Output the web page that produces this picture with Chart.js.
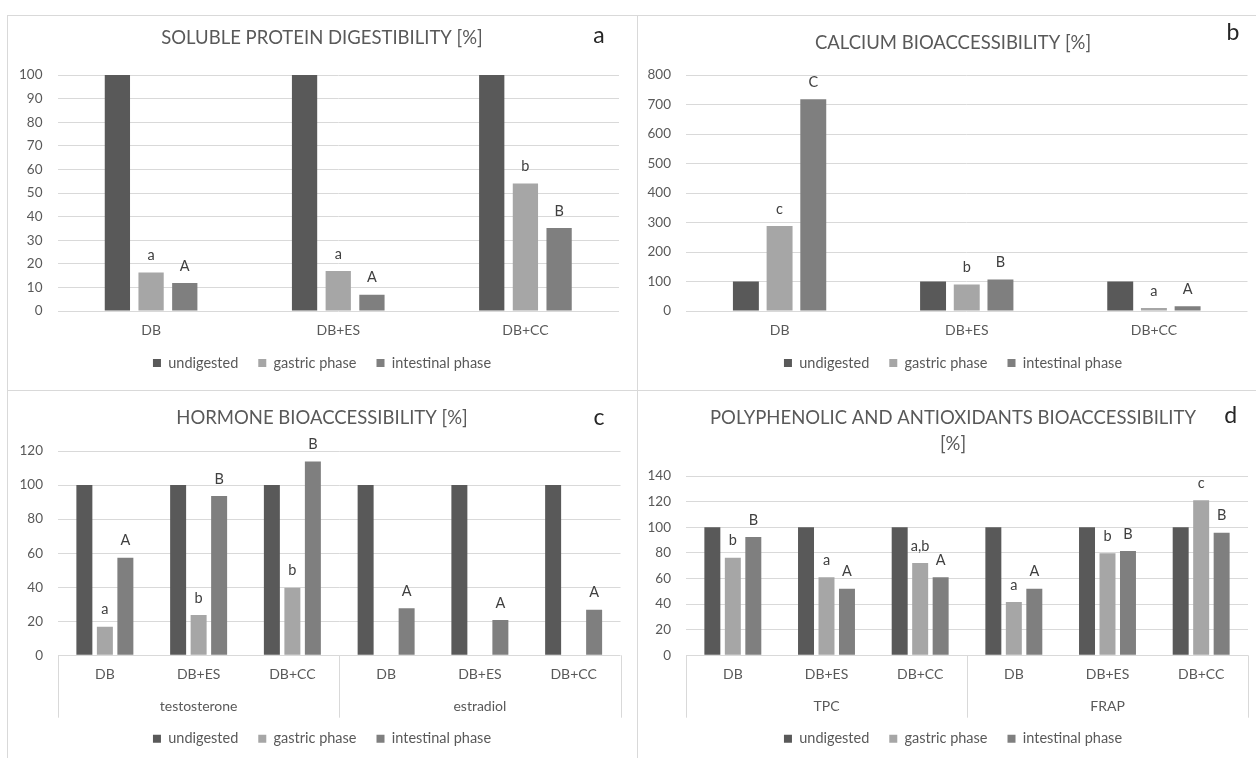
<!DOCTYPE html>
<html>
<head>
<meta charset="utf-8">
<title>Digestibility and bioaccessibility</title>
<script src="https://cdn.jsdelivr.net/npm/chart.js@4.4.1/dist/chart.umd.min.js"></script>
<style>
  html, body { margin: 0; padding: 0; background: #ffffff; width: 1256px; height: 758px; overflow: hidden; }
  .rule { position: absolute; background: #d9d9d9; }
  canvas { position: absolute; }
</style>
</head>
<body>
<div class="rule" style="left:7px;top:15px;width:1249px;height:1px"></div>
<div class="rule" style="left:7px;top:15px;width:1px;height:743px"></div>
<div class="rule" style="left:637px;top:15px;width:1px;height:743px"></div>
<div class="rule" style="left:7px;top:390px;width:1249px;height:1px"></div>

<canvas id="panelA" width="628" height="373" style="left:8px;top:16px"></canvas>
<canvas id="panelB" width="630" height="373" style="left:638px;top:16px"></canvas>
<canvas id="panelC" width="628" height="367" style="left:8px;top:391px"></canvas>
<canvas id="panelD" width="630" height="367" style="left:638px;top:391px"></canvas>

<script>
// ---- series shared by all four panels ----
const phaseNames = ['undigested', 'gastric phase', 'intestinal phase'];
const phaseColors = ['#595959', '#a6a6a6', '#7f7f7f'];

// ---- a: soluble protein digestibility [%] ----
const proteinCategories = ['DB', 'DB+ES', 'DB+CC'];
const proteinUndigested = [100, 100, 100];
const proteinGastric = [16.3, 16.9, 54];
const proteinIntestinal = [11.9, 6.9, 35.2];
const proteinGastricSig = ['a', 'a', 'b'];
const proteinIntestinalSig = ['A', 'A', 'B'];
const proteinAxis = [0, 100, 10];   // min, max, step

// ---- b: calcium bioaccessibility [%] ----
const calciumCategories = ['DB', 'DB+ES', 'DB+CC'];
const calciumUndigested = [100, 100, 100];
const calciumGastric = [288, 90, 10];
const calciumIntestinal = [718, 107, 16];
const calciumGastricSig = ['c', 'b', 'a'];
const calciumIntestinalSig = ['C', 'B', 'A'];
const calciumAxis = [0, 800, 100];

// ---- c: hormone bioaccessibility [%] ----
const hormoneCategories = ['DB', 'DB+ES', 'DB+CC', 'DB', 'DB+ES', 'DB+CC'];
const hormoneGroups = ['testosterone', 'estradiol'];
const hormoneUndigested = [100, 100, 100, 100, 100, 100];
const hormoneGastric = [16.8, 23.7, 39.7, null, null, null];
const hormoneIntestinal = [57.3, 93.5, 113.9, 27.6, 20.7, 26.8];
const hormoneGastricSig = ['a', 'b', 'b', '', '', ''];
const hormoneIntestinalSig = ['A', 'B', 'B', 'A', 'A', 'A'];
const hormoneAxis = [0, 120, 20];

// ---- d: polyphenolic and antioxidants bioaccessibility [%] ----
const polyCategories = ['DB', 'DB+ES', 'DB+CC', 'DB', 'DB+ES', 'DB+CC'];
const polyGroups = ['TPC', 'FRAP'];
const polyUndigested = [100, 100, 100, 100, 100, 100];
const polyGastric = [76.2, 60.9, 72, 41.6, 79.6, 121];
const polyIntestinal = [92.3, 52, 60.9, 52, 81.4, 95.7];
const polyGastricSig = ['b', 'a', 'a,b', 'a', 'b', 'c'];
const polyIntestinalSig = ['B', 'A', 'A', 'A', 'B', 'B'];
const polyAxis = [0, 140, 20];

Chart.defaults.font.family = "Lato, 'Open Sans', 'DejaVu Sans', sans-serif";
Chart.defaults.color = '#595959';

// Significance letters written above the gastric / intestinal bars
const sigLetters = {
  id: 'sigLetters',
  afterDatasetsDraw(chart) {
    const ctx = chart.ctx;
    ctx.save();
    ctx.font = "14.5px Lato, 'Open Sans', sans-serif";
    ctx.fillStyle = '#404040';
    ctx.textAlign = 'center';
    ctx.textBaseline = 'middle';
    chart.data.datasets.forEach((ds, i) => {
      if (!ds.sig) return;
      chart.getDatasetMeta(i).data.forEach((bar, j) => {
        const t = ds.sig[j];
        if (t && ds.data[j] != null) ctx.fillText(t, bar.x, bar.y - 17);
      });
    });
    ctx.restore();
  }
};

// Second category row (group names with separators) under the x axis
const groupAxis = {
  id: 'groupAxis',
  afterDraw(chart, args, opts) {
    if (!opts.groups) return;
    const ctx = chart.ctx, x = chart.scales.x, area = chart.chartArea;
    const per = chart.data.labels.length / opts.groups.length;
    ctx.save();
    ctx.strokeStyle = '#d9d9d9';
    ctx.lineWidth = 1;
    for (let g = 0; g <= opts.groups.length; g++) {
      let px;
      if (g === 0) px = area.left;
      else if (g === opts.groups.length) px = area.right;
      else px = (x.getPixelForValue(g * per - 1) + x.getPixelForValue(g * per)) / 2;
      px = Math.round(px) + 0.5;
      ctx.beginPath();
      ctx.moveTo(px, area.bottom);
      ctx.lineTo(px, area.bottom + opts.depth);
      ctx.stroke();
    }
    ctx.font = "14px Lato, 'Open Sans', sans-serif";
    ctx.fillStyle = '#595959';
    ctx.textAlign = 'center';
    ctx.textBaseline = 'middle';
    opts.groups.forEach((name, g) => {
      ctx.fillText(name, x.getPixelForValue(g * per + (per - 1) / 2), area.bottom + opts.labelOffset);
    });
    ctx.restore();
  }
};

// Panel letter in the upper right corner
const cornerMark = {
  id: 'cornerMark',
  afterDraw(chart, args, opts) {
    if (!opts.text) return;
    const ctx = chart.ctx;
    ctx.save();
    ctx.font = "23px Lato, 'Open Sans', sans-serif";
    ctx.fillStyle = '#262626';
    ctx.textAlign = 'center';
    ctx.textBaseline = 'middle';
    ctx.fillText(opts.text, opts.x, opts.y);
    ctx.restore();
  }
};

function buildPanel(id, p) {
  const datasets = [p.undigested, p.gastric, p.intestinal].map((values, i) => ({
    label: phaseNames[i],
    data: values,
    backgroundColor: phaseColors[i],
    borderWidth: 0,
    categoryPercentage: p.catPct,
    barPercentage: p.barPct,
    sig: i === 1 ? p.gastricSig : i === 2 ? p.intestinalSig : null
  }));
  return new Chart(document.getElementById(id), {
    type: 'bar',
    data: { labels: p.categories, datasets },
    options: {
      responsive: false,
      animation: false,
      devicePixelRatio: 1,
      layout: { padding: { left: 0, right: 0, top: 0, bottom: p.bottomPad } },
      plugins: {
        title: {
          display: true,
          text: p.title,
          color: '#595959',
          font: { size: 18.5, weight: 'normal', lineHeight: p.titleLine || 1.2 },
          padding: { top: p.titleTop, bottom: p.titleBottom }
        },
        legend: {
          position: 'bottom',
          labels: { boxWidth: 8, boxHeight: 8, padding: 20, color: '#595959', font: { size: 14.5 } }
        },
        tooltip: { enabled: false },
        groupAxis: { groups: p.groups || null, depth: p.groupDepth, labelOffset: p.groupOffset },
        cornerMark: { text: p.mark, x: p.markX, y: p.markY }
      },
      scales: {
        x: {
          grid: { display: false, drawTicks: false },
          border: { display: false },
          ticks: { padding: 11, color: '#595959', font: { size: 14 }, autoSkip: false, maxRotation: 0 },
          afterFit(s) { s.height = p.xHeight; }
        },
        y: {
          min: p.axis[0],
          max: p.axis[1],
          ticks: { stepSize: p.axis[2], padding: 15, color: '#595959', font: { size: 13.5 } },
          grid: { color: '#d9d9d9', lineWidth: 1, drawTicks: false },
          border: { display: false },
          afterFit(s) { s.width = p.plotLeft; }
        },
        // empty right-hand margin so the plot ends short of the panel edge
        edge: {
          position: 'right',
          display: true,
          grid: { display: false, drawTicks: false },
          border: { display: false },
          ticks: { display: false },
          afterFit(s) { s.width = p.rightGap; }
        }
      }
    },
    plugins: [sigLetters, groupAxis, cornerMark]
  });
}

buildPanel('panelA', {
  title: 'SOLUBLE PROTEIN DIGESTIBILITY [%]',
  categories: proteinCategories,
  undigested: proteinUndigested, gastric: proteinGastric, intestinal: proteinIntestinal,
  gastricSig: proteinGastricSig, intestinalSig: proteinIntestinalSig,
  axis: proteinAxis,
  catPct: 0.54, barPct: 0.75,
  plotLeft: 49.5, rightGap: 17, bottomPad: 8.75, xHeight: 24.75,
  titleTop: 10.9, titleBottom: 25.9,
  mark: 'a', markX: 591, markY: 20
});

buildPanel('panelB', {
  title: 'CALCIUM BIOACCESSIBILITY [%]',
  categories: calciumCategories,
  undigested: calciumUndigested, gastric: calciumGastric, intestinal: calciumIntestinal,
  gastricSig: calciumGastricSig, intestinalSig: calciumIntestinalSig,
  axis: calciumAxis,
  catPct: 0.54, barPct: 0.77,
  plotLeft: 48, rightGap: 20.5, bottomPad: 8.75, xHeight: 24.75,
  titleTop: 15.9, titleBottom: 20.9,
  mark: 'b', markX: 595, markY: 17
});

buildPanel('panelC', {
  title: 'HORMONE BIOACCESSIBILITY [%]',
  categories: hormoneCategories, groups: hormoneGroups,
  undigested: hormoneUndigested, gastric: hormoneGastric, intestinal: hormoneIntestinal,
  gastricSig: hormoneGastricSig, intestinalSig: hormoneIntestinalSig,
  axis: hormoneAxis,
  catPct: 0.656, barPct: 0.78,
  plotLeft: 50, rightGap: 15.5, bottomPad: 2.05, xHeight: 56.15,
  titleTop: 15.6, titleBottom: 22.2,
  groupDepth: 62.4, groupOffset: 51.4,
  mark: 'c', markX: 591, markY: 26.7
});

buildPanel('panelD', {
  title: ['POLYPHENOLIC AND ANTIOXIDANTS BIOACCESSIBILITY', '[%]'],
  titleLine: 1.438,
  categories: polyCategories, groups: polyGroups,
  undigested: polyUndigested, gastric: polyGastric, intestinal: polyIntestinal,
  gastricSig: polyGastricSig, intestinalSig: polyIntestinalSig,
  axis: polyAxis,
  catPct: 0.656, barPct: 0.78,
  plotLeft: 48, rightGap: 20, bottomPad: 2.05, xHeight: 56.15,
  titleTop: 13.4, titleBottom: 18.4,
  groupDepth: 62.4, groupOffset: 51.4,
  mark: 'd', markX: 592.7, markY: 25
});
</script>
</body>
</html>
